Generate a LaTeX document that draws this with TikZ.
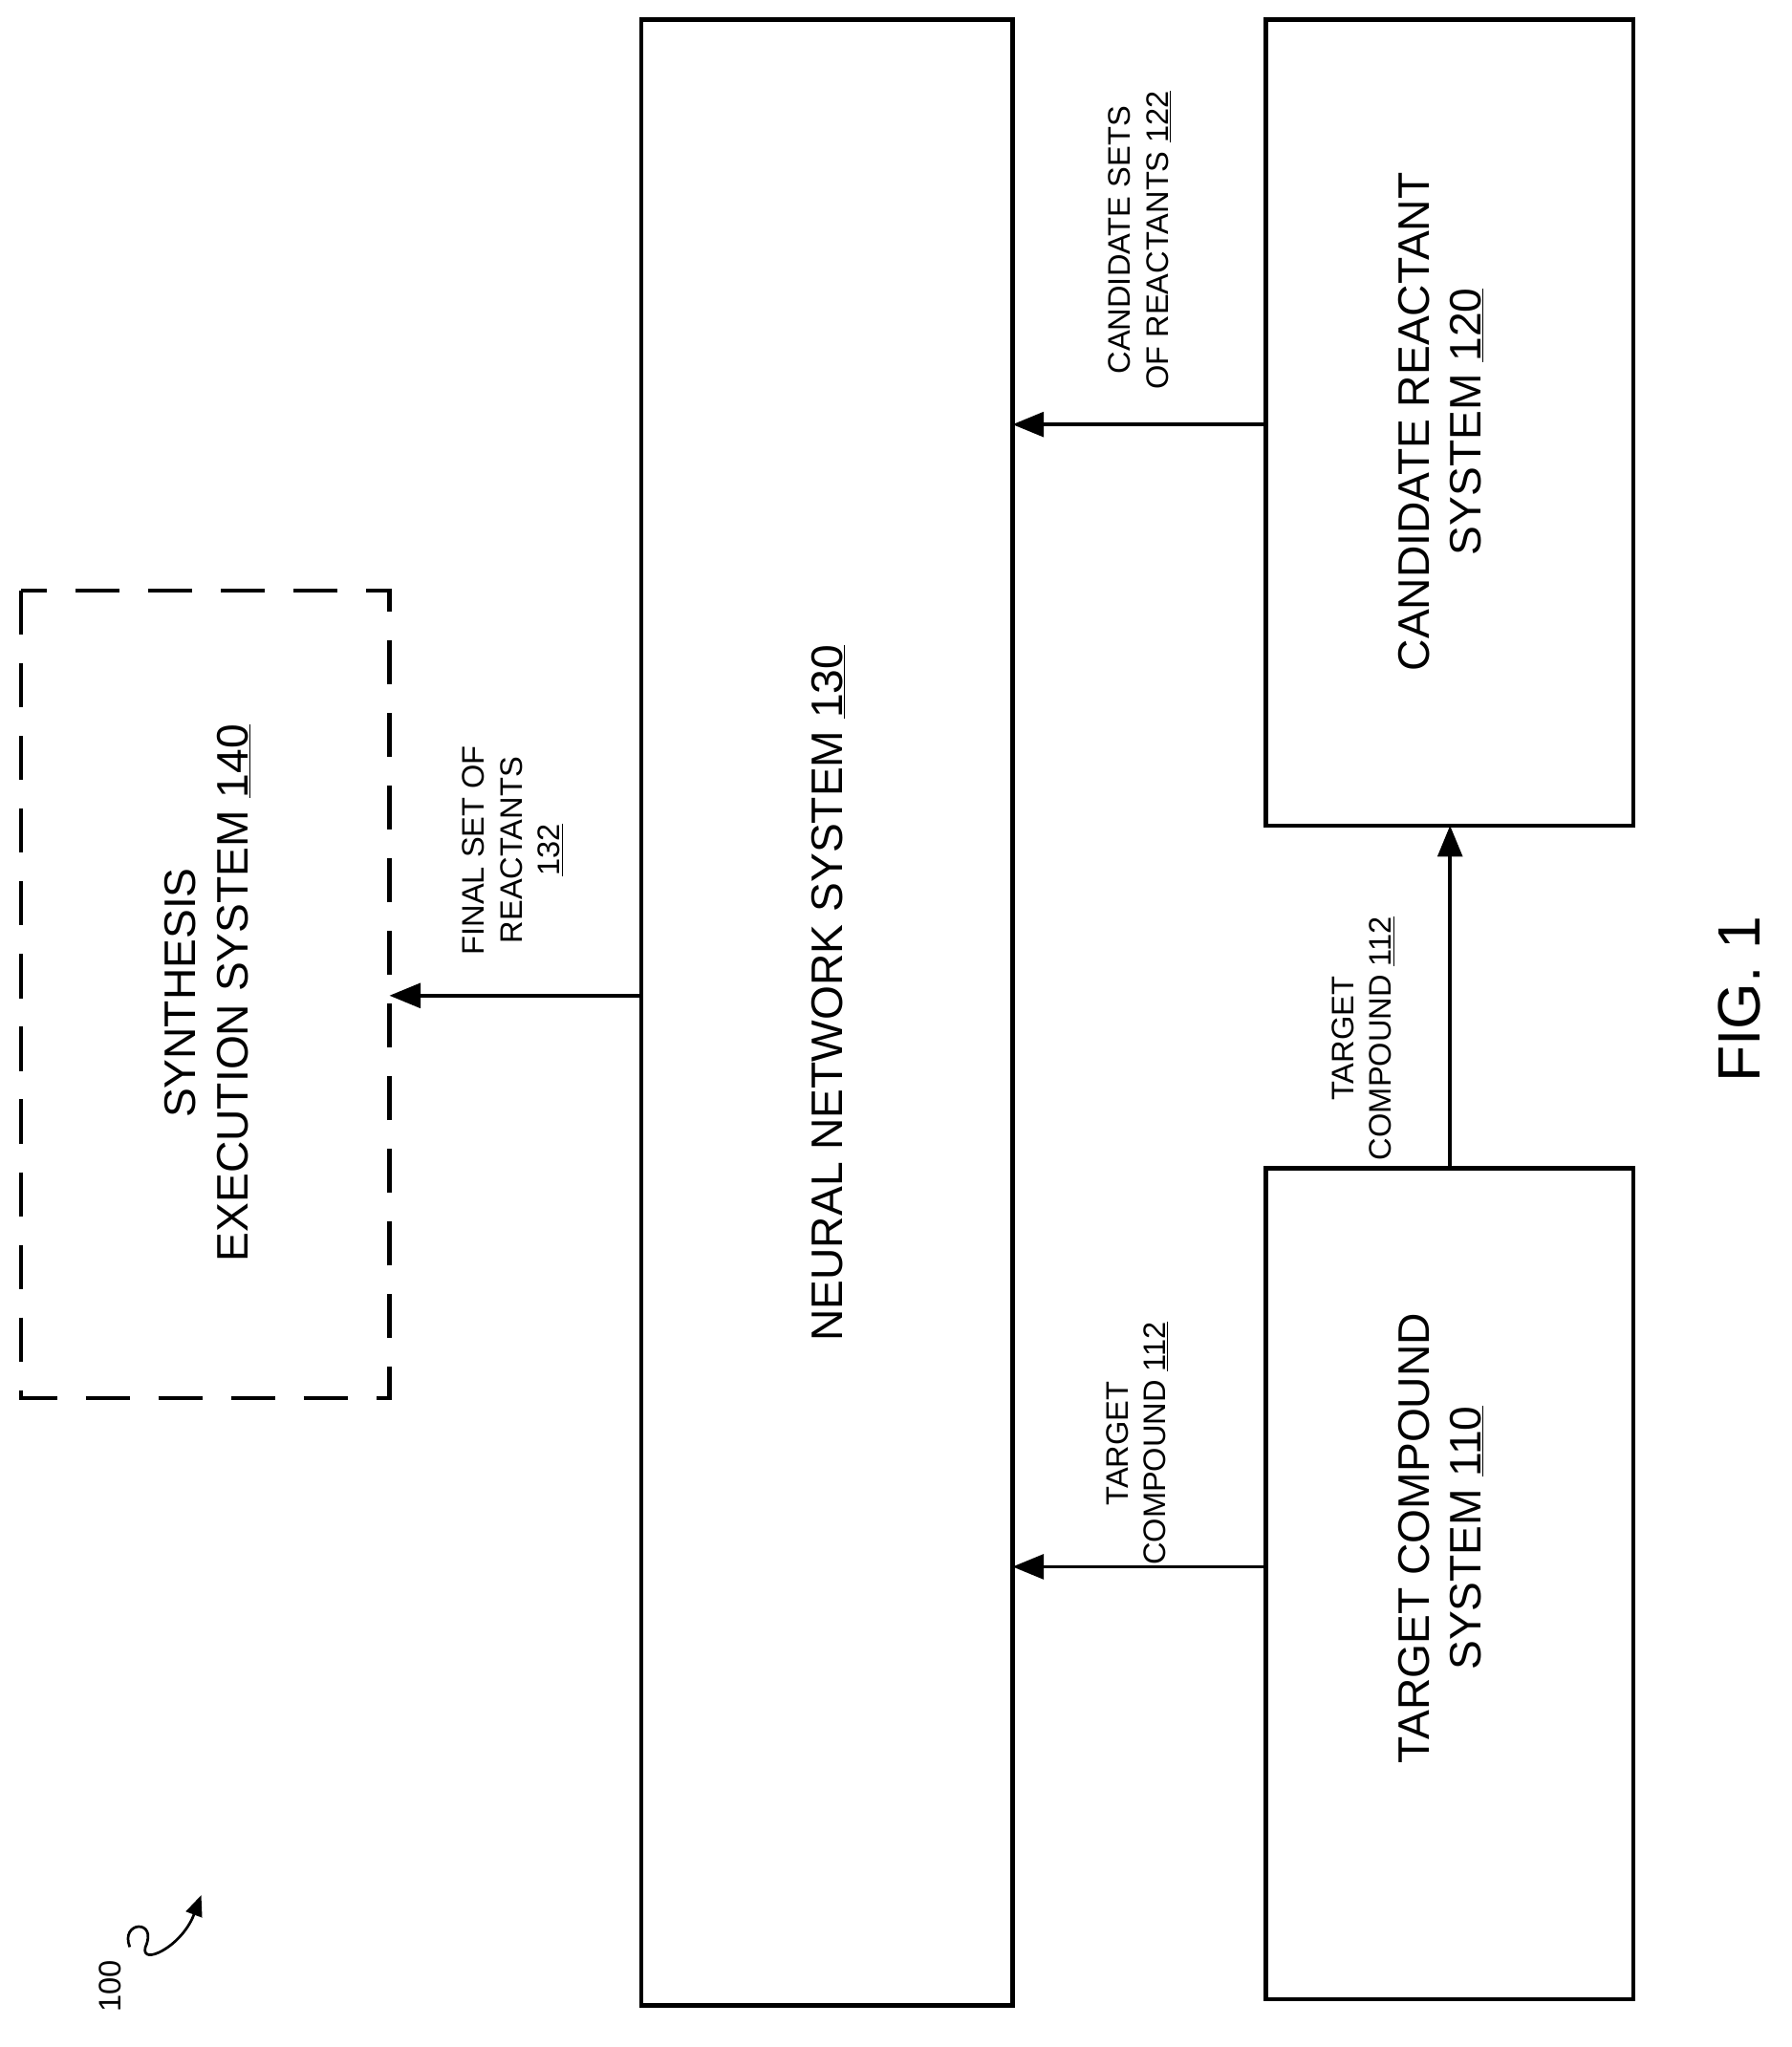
\documentclass[tikz,border=0pt]{standalone}
\usepackage{fontspec}
\setmainfont{Liberation Sans}
\usetikzlibrary{arrows.meta}
\tikzset{
  box/.style={draw, line width=3.2pt},
  big/.style={font=\fontsize{34}{40}\selectfont, align=center, rotate=90},
  small/.style={font=\fontsize{24}{29}\selectfont, align=center, rotate=90},
  flow/.style={line width=2.6pt, -{Triangle[length=24pt,width=19pt]}}
}
\begin{document}
\begin{tikzpicture}[x=1pt,y=-1pt]
            \useasboundingbox (0,0) rectangle (1380,1577);
            % boxes
            \draw[box] (494,15) rectangle (780,1545);
            \draw[box] (975,15) rectangle (1258,636);
            \draw[box] (975,900) rectangle (1258,1540);
            \draw[box, dash pattern=on 34pt off 22pt] (16,455) rectangle (300,1077);
            \node[big] (nn) at (638,765) {NEURAL NETWORK SYSTEM \underline{130}};
            \node[big] (cr) at (1110,325) {CANDIDATE REACTANT\\SYSTEM \underline{120}};
            \node[big] (tc) at (1110,1185) {TARGET COMPOUND\\SYSTEM \underline{110}};
            \node[big] (se) at (160,765) {SYNTHESIS\\EXECUTION SYSTEM \underline{140}};
            % connector ends
            \coordinate (0) at (975,327);
            \coordinate (1) at (780,327);
            \coordinate (2) at (975,1207);
            \coordinate (3) at (780,1207);
            \coordinate (4) at (1117,900);
            \coordinate (5) at (1117,636);
            \coordinate (6) at (494,767);
            \coordinate (7) at (300,767);
            \draw[flow] (0) to (1);
            \draw[flow] (2) to (3);
            \draw[flow] (4) to (5);
            \draw[flow] (6) to (7);
            \node[small] (l1) at (878,185) {CANDIDATE SETS\\OF REACTANTS \underline{122}};
            \node[small] (l2) at (876,1112) {TARGET\\COMPOUND \underline{112}};
            \node[small] (l3) at (1050,800) {TARGET\\COMPOUND \underline{112}};
            \node[small] (l4) at (395,655) {FINAL SET OF\\REACTANTS\\\underline{132}};
            \node[font=\fontsize{46}{50}\selectfont, rotate=90] (fig) at (1340,770) {FIG. 1};
            \node[small] (ref) at (85,1530) {100};
            \coordinate (8) at (155,1460);
            \draw[line width=2pt, -{Triangle[length=16pt,width=13pt]}] (100,1500) .. controls (92,1480) and (122,1478) .. (112,1500) .. controls (108,1515) and (140,1500) .. (8);
    \end{tikzpicture}
\end{document}
